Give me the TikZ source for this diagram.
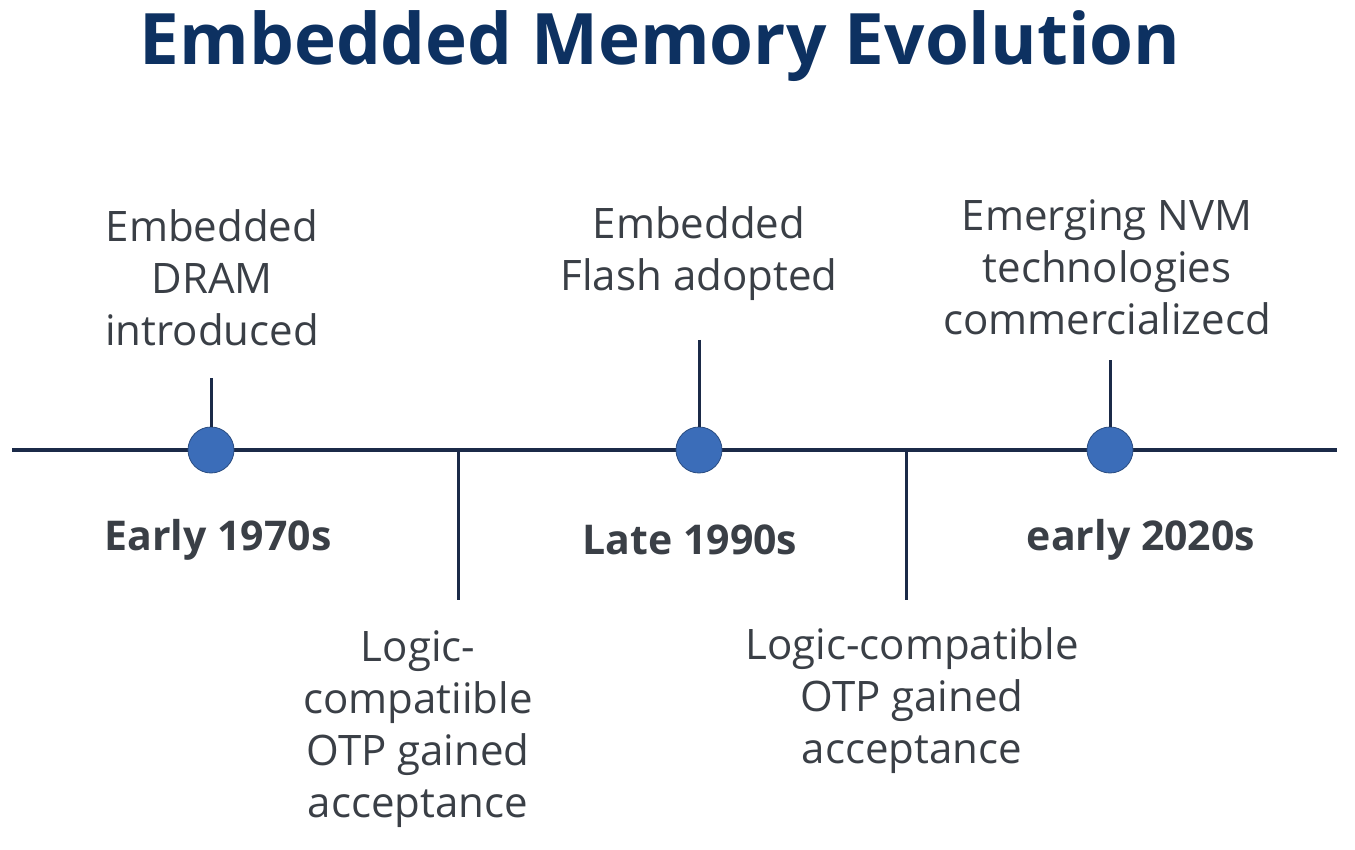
\documentclass[tikz,border=0pt]{standalone}
\usepackage{fontspec}
\setmainfont{Open Sans}
\definecolor{navy}{HTML}{0D3161}
\definecolor{linec}{HTML}{1B2A48}
\definecolor{dotc}{HTML}{3B6DB9}
\definecolor{txt}{HTML}{3A3F46}
\begin{document}
\begin{tikzpicture}[x=1pt,y=-1pt,
  lbl/.style={text=txt,font=\fontsize{42}{52}\selectfont,align=center,inner sep=0pt},
  datel/.style={text=txt,font=\fontsize{41}{44}\selectfont\bfseries,inner sep=0pt},
  tick/.style={draw=linec,line width=3pt},
  dot/.style={circle,fill=dotc,draw=dotc!70!black,line width=0.8pt,minimum size=46pt,inner sep=0pt}]
\useasboundingbox (0,0) rectangle (1355,850);
\node[text=navy,font=\fontsize{71}{80}\selectfont\bfseries,inner sep=0pt] (title) at (660,46) {Embedded Memory Evolution};
\coordinate (L) at (12,450); \coordinate (R) at (1337,450);
\draw[linec,line width=4pt] (L) -- (R);
\coordinate (u1) at (211,378); \coordinate (u2) at (699,340); \coordinate (u3) at (1110,360);
\coordinate (d1) at (458,600); \coordinate (d2) at (906,600);
\coordinate (b1) at (458,450); \coordinate (b2) at (906,450);
\node[dot] (p1) at (211,450) {}; \node[dot] (p2) at (699,450) {}; \node[dot] (p3) at (1110,450) {};
\draw[tick] (u1) -- (p1.north); \draw[tick] (u2) -- (p2.north); \draw[tick] (u3) -- (p3.north);
\draw[tick] (b1) -- (d1); \draw[tick] (b2) -- (d2);
\node[lbl] (t1) at (212,278) {Embedded\\DRAM\\introduced};
\node[lbl] (t2) at (699,254) {Embedded\\Flash adopted};
\node[lbl] (t3) at (1107,267) {Emerging NVM\\technologies\\commercializecd};
\node[datel] (y1) at (218,540) {Early 1970s};
\node[datel] (y2) at (690,540) {Late 1990s};
\node[datel] (y3) at (1141,540) {early 2020s};
\node[lbl] (t4) at (418,729) {Logic-\\compatiible\\OTP gained\\acceptance};
\node[lbl] (t5) at (912,701) {Logic-compatible\\OTP gained\\acceptance};
\end{tikzpicture}
\end{document}
